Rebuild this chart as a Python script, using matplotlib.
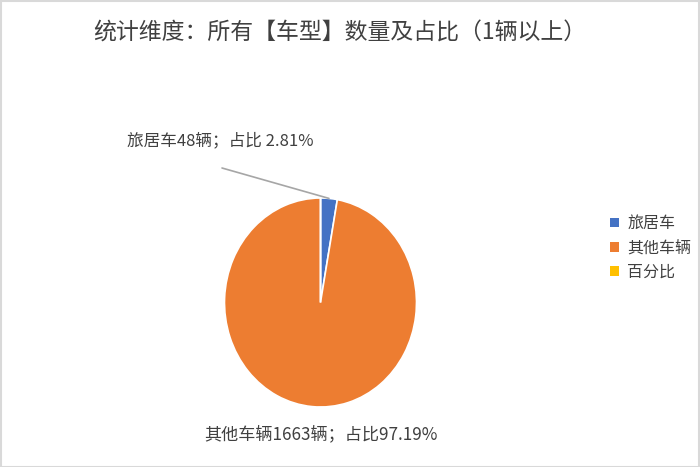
import numpy as np
import matplotlib.pyplot as plt
from matplotlib.patches import Patch

plt.rcParams['font.family'] = ['Noto Sans CJK SC', 'DejaVu Sans']

# === Data ===
categories = ['旅居车', '其他车辆', '百分比']
counts = [48, 1663, 0]
colors = ['#4472C4', '#ED7D31', '#FFC000']
title = '统计维度：所有【车型】数量及占比（1辆以上）'

total = sum(counts)
shares = [c / total * 100 for c in counts]

W, H = 700, 467
fig = plt.figure(figsize=(W / 100, H / 100), dpi=100)

# pie axes (slightly stretched vertically like the original)
ax = fig.add_axes([224.5 / W, (H - 407) / H, 192 / W, 209 / H])
wedges, _ = ax.pie(counts, colors=colors, startangle=90, counterclock=False,
                   wedgeprops=dict(edgecolor='white', linewidth=1.2))
ax.set_aspect('auto')
ax.set_xlim(-1, 1)
ax.set_ylim(-1, 1)
ax.axis('off')

txt_color = '#404040'

# title
fig.text(340 / W, 1 - 33 / H, title, ha='center', va='center',
         fontsize=16.5, color=txt_color)

# data labels
w0 = wedges[0]
mid = np.deg2rad((w0.theta1 + w0.theta2) / 2)
edge = (np.cos(mid), np.sin(mid))
ax.annotate('', xy=edge, xycoords='data',
            xytext=(222 / W, 1 - 168 / H), textcoords='figure fraction',
            arrowprops=dict(arrowstyle='-', color='#A6A6A6', lw=1.2,
                            shrinkA=0, shrinkB=0), annotation_clip=False)
fig.text(127 / W, 1 - 141 / H,
         f'{categories[0]}{counts[0]}辆；占比 {shares[0]:.2f}%',
         ha='left', va='center', fontsize=12, color=txt_color)
fig.text(321 / W, 1 - 434 / H,
         f'{categories[1]}{counts[1]}辆；占比{shares[1]:.2f}%',
         ha='center', va='center', fontsize=12.3, color=txt_color)

# legend
handles = [Patch(facecolor=c, edgecolor='none') for c in colors]
fig.legend(handles, categories, loc='center left',
           bbox_to_anchor=(596 / W, 1 - 248 / H), frameon=False,
           fontsize=11.5, labelcolor=txt_color, handlelength=0.55,
           handleheight=0.55, handletextpad=0.5, labelspacing=0.45)

# outer border
fig.add_artist(plt.Rectangle((0.5 / W, 0.5 / H), 1 - 1.5 / W, 1 - 1.5 / H,
                             transform=fig.transFigure, fill=False,
                             edgecolor='#D9D9D9', linewidth=1.5))

fig.savefig('out.png', dpi=100)
